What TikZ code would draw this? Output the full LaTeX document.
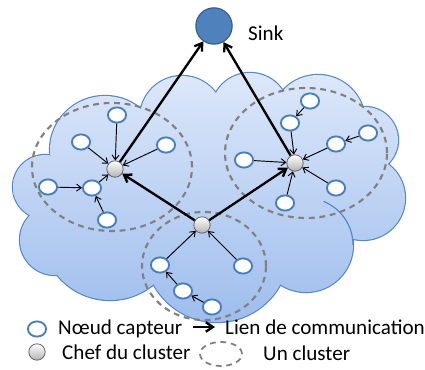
\documentclass[tikz,border=0pt]{standalone}
\usepackage{fontspec}
\setmainfont{Carlito}
\usetikzlibrary{arrows.meta, positioning, shapes.geometric}
\definecolor{cloudline}{RGB}{86,135,200}
\definecolor{cloudtop}{RGB}{224,234,251}
\definecolor{cloudbot}{RGB}{156,188,236}
\definecolor{sensorblue}{RGB}{74,126,187}
\definecolor{sinkblue}{RGB}{79,129,189}
\definecolor{sinkline}{RGB}{56,93,138}
\definecolor{clustergray}{RGB}{128,128,128}

\begin{document}
\begin{tikzpicture}[x=0.03cm, y=0.03cm,
    capteur/.style={ellipse, draw=sensorblue, line width=1.6pt, fill=white,
      minimum width=15.5pt, minimum height=13pt, inner sep=0pt},
    chef/.style={circle, draw=gray!70!black, line width=0.6pt, top color=white,
      bottom color=gray!60, minimum size=14pt, inner sep=0pt},
    cluster/.style={draw=clustergray, line width=1.8pt, dash pattern=on 5pt off 4pt},
    lien/.style={-{Straight Barb[length=4pt, width=6pt]}, line width=0.8pt},
    route/.style={-{Straight Barb[length=6pt, width=8pt, line width=2pt]}, line width=2pt},
    legende/.style={anchor=west, inner sep=0pt},
    font=\fontsize{18}{21}\selectfont]
  \useasboundingbox (0,0) rectangle (425,370);

  % Cloud
  \foreach \x/\y/\a/\b in {45/183/32/32, 105/220/55/54, 182/252/42/42, 250/258/39/39,
      318/248/47/47, 365/230/33/33, 363/172/42/42, 306/125/47/47, 217/120/72/72,
      110/138/68/68, 55/130/35/35, 215/185/150/85}
    \draw[cloudline, line width=2pt] (\x,\y) ellipse [x radius=\a, y radius=\b];
  \begin{scope}
    \clip foreach \x/\y/\a/\b in {45/183/32/32, 105/220/55/54, 182/252/42/42, 250/258/39/39,
        318/248/47/47, 365/230/33/33, 363/172/42/42, 306/125/47/47, 217/120/72/72,
        110/138/68/68, 55/130/35/35, 215/185/150/85}
      {(\x,\y) ellipse [x radius=\a, y radius=\b]};
    \shade[top color=cloudtop, bottom color=cloudbot] (0,40) rectangle (425,310);
  \end{scope}
  \draw[cloudline, line width=1pt] (306,125) ++(68:47) arc [start angle=68, end angle=0, radius=47];

  % Clusters
  \draw[cluster] (112,203) ellipse [x radius=80, y radius=64];
  \draw[cluster] (306,217) ellipse [x radius=81, y radius=65];
  \draw[cluster] (204,104) ellipse [x radius=62, y radius=54];

  % Sink
  \node[circle, fill=sinkblue, draw=sinkline, line width=1pt, minimum size=31pt] (sink) at (214,344) {};
  \node[legende] (sinklabel) at (248,337) {Sink};

  % Cluster heads
  \node[chef] (chg) at (115,201) {};
  \node[chef] (chd) at (295,207) {};
  \node[chef] (chb) at (202,145) {};

  % Left cluster
  \node[capteur] (g1) at (117,255) {};
  \node[capteur] (g2) at (81,228) {};
  \node[capteur] (g3) at (166,225) {};
  \node[capteur] (g4) at (48,183) {};
  \node[capteur] (g5) at (92,182) {};
  \node[capteur] (g6) at (107,150) {};
  \draw[lien] (g1) -- (chg);
  \draw[lien] (g2) -- (chg);
  \draw[lien] (g3) -- (chg);
  \draw[lien] (g5) -- (chg);
  \draw[lien] (g4) -- (g5);
  \draw[lien] (g6) -- (g5);

  % Right cluster
  \node[capteur] (d1) at (310,269) {};
  \node[capteur] (d2) at (290,247) {};
  \node[capteur] (d3) at (368,237) {};
  \node[capteur] (d4) at (336,226) {};
  \node[capteur] (d5) at (244,210) {};
  \node[capteur] (d6) at (336,182) {};
  \node[capteur] (d7) at (285,167) {};
  \draw[lien] (d1) -- (d2);
  \draw[lien] (d2) -- (chd);
  \draw[lien] (d3) -- (d4);
  \draw[lien] (d4) -- (chd);
  \draw[lien] (d5) -- (chd);
  \draw[lien] (d6) -- (chd);
  \draw[lien] (d7) -- (chd);

  % Bottom cluster
  \node[capteur] (b1) at (160,105) {};
  \node[capteur] (b2) at (243,104) {};
  \node[capteur] (b3) at (183,79) {};
  \node[capteur] (b4) at (212,63) {};
  \draw[lien] (b1) -- (chb);
  \draw[lien] (b2) -- (chb);
  \draw[lien] (b3) -- (b1);
  \draw[lien] (b4) -- (b3);

  % Routes to the sink
  \draw[route] (chb) -- (chg);
  \draw[route] (chb) -- (chd);
  \draw[route] (chg) -- (sink);
  \draw[route] (chd) -- (sink);

  % Legend
  \node[capteur] (lcapteur) at (37,41) {};
  \node[legende] (tcapteur) at (58,41) {Nœud capteur};
  \coordinate (lfrom) at (193,43);
  \coordinate (lto) at (215,43);
  \draw[route] (lfrom) -- (lto);
  \node[legende] (tlien) at (225,43) {Lien de communication};
  \node[chef] (lchef) at (37,18) {};
  \node[legende] (tchef) at (62,18) {Chef du cluster};
  \draw[cluster, line width=1.5pt] (221,16) ellipse [x radius=21, y radius=12];
  \node[legende] (tcluster) at (263,17) {Un cluster};
\end{tikzpicture}
\end{document}
